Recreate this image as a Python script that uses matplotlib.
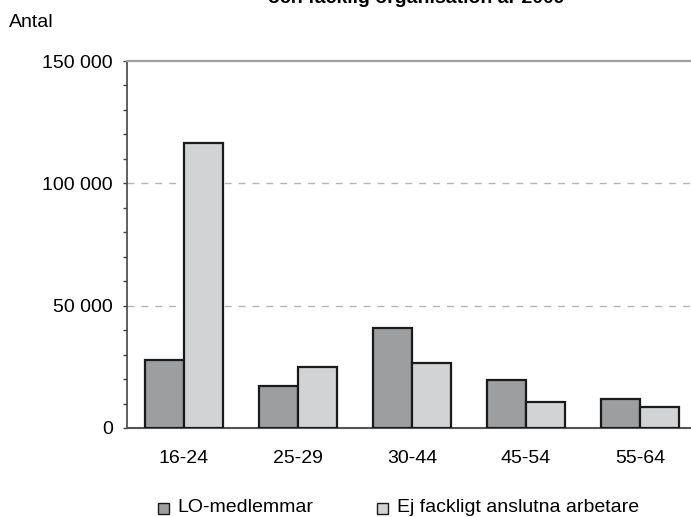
import matplotlib
matplotlib.use("Agg")
import matplotlib.pyplot as plt
from matplotlib.patches import Rectangle
from matplotlib.ticker import MultipleLocator, FuncFormatter
import numpy as np

plt.rcParams['font.family'] = ['Liberation Sans', 'DejaVu Sans']

categories = ["16-24", "25-29", "30-44", "45-54", "55-64"]
lo_members = [27800, 17300, 41000, 19600, 11700]
non_union = [116600, 25100, 26700, 10800, 8500]
series_names = ["LO-medlemmar", "Ej fackligt anslutna arbetare"]
title_text = "och facklig organisation år 2009"

fig = plt.figure(figsize=(6.91, 5.17), dpi=100)
W, H = 691, 517
ax = fig.add_axes([127 / W, 1 - 428 / H, 570 / W, (428 - 61) / H])

x = np.arange(len(categories))
bw = 0.34
c1, c2 = "#9d9e9f", "#d2d3d5"
ax.bar(x - bw / 2, lo_members, bw, color=c1, edgecolor="#1a1a1a", linewidth=1.6, zorder=3)
ax.bar(x + bw / 2, non_union, bw, color=c2, edgecolor="#1a1a1a", linewidth=1.6, zorder=3)

ax.set_xlim(-0.5, 4.5)
ax.set_ylim(0, 150000)
ax.set_xticks(x)
ax.set_xticklabels(categories, fontsize=14)
ax.yaxis.set_major_locator(MultipleLocator(50000))
ax.yaxis.set_minor_locator(MultipleLocator(10000))
ax.yaxis.set_major_formatter(FuncFormatter(lambda v, p: f"{int(v):,}".replace(",", " ")))
ax.tick_params(axis='y', which='both', direction='out', length=3, width=1, color="#444444", labelsize=14, pad=7)
ax.tick_params(axis='x', length=0, pad=16)

ax.spines['right'].set_visible(False)
ax.spines['top'].set_color("#a0a0a0")
ax.spines['top'].set_linewidth(1.6)
ax.spines['left'].set_color("#444444")
ax.spines['left'].set_linewidth(1.2)
ax.spines['bottom'].set_color("#555555")
ax.spines['bottom'].set_linewidth(1.5)

for v in [50000, 100000]:
    ax.axhline(v, color="#b5b5b5", linestyle=(0, (5, 5)), linewidth=1, zorder=1)

fig.text(9 / W, 1 - 27 / H, "Antal", fontsize=14, ha="left", va="baseline")
fig.text(565 / W, 1 - 3 / H, title_text, fontsize=14, fontweight="bold", ha="right", va="baseline")

# legend
leg_items = [(158, 177, c1, series_names[0]), (377, 397, c2, series_names[1])]
for sx, tx, col, name in leg_items:
    fig.patches.append(Rectangle((sx / W, 1 - 514 / H), 11 / W, 11 / H, transform=fig.transFigure,
                                 facecolor=col, edgecolor="#1a1a1a", linewidth=1))
    fig.text(tx / W, 1 - 512 / H, name, fontsize=14, ha="left", va="baseline")

fig.savefig("out.png", dpi=100)
